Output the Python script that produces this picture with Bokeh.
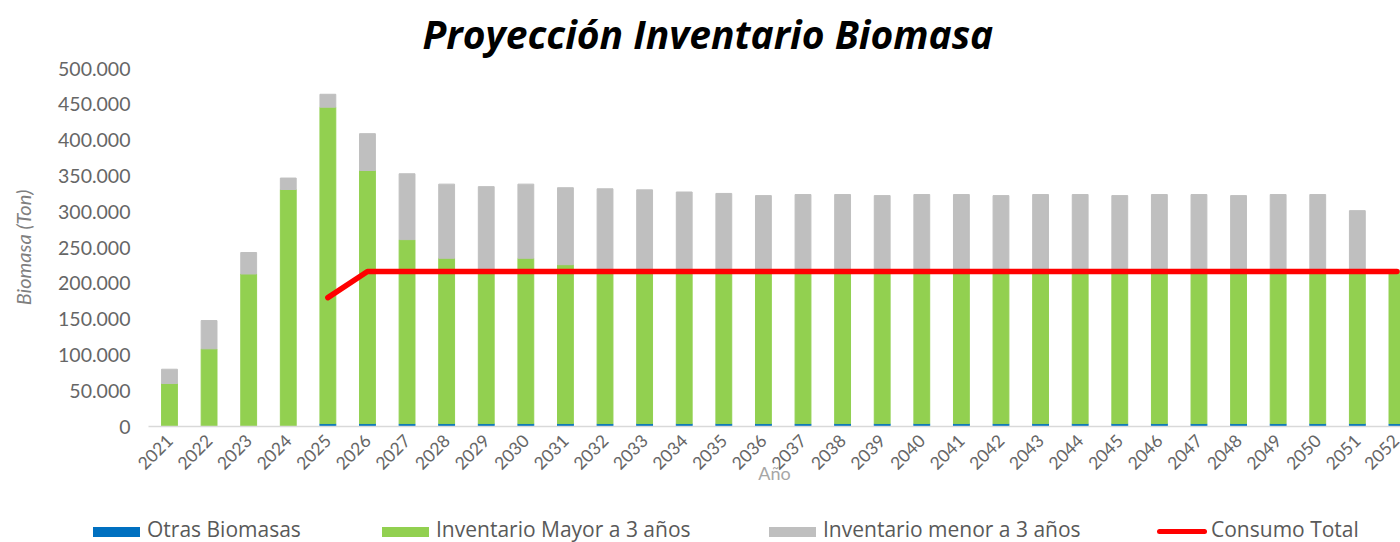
import math
from bokeh.plotting import figure
from bokeh.layouts import column
from bokeh.models import (Range1d, FixedTicker, Title, ColumnDataSource, Div)
from bokeh.embed import file_html
from bokeh.resources import INLINE

# ---------------- data ----------------
years = [2021, 2022, 2023, 2024, 2025, 2026, 2027, 2028, 2029, 2030,
         2031, 2032, 2033, 2034, 2035, 2036, 2037, 2038, 2039, 2040,
         2041, 2042, 2043, 2044, 2045, 2046, 2047, 2048, 2049, 2050,
         2051, 2052]
otras_biomasas = [0, 0, 0, 0, 4000, 4000, 4000, 4000, 4000, 4000,
                  4000, 4000, 4000, 4000, 4000, 4000, 4000, 4000, 4000, 4000,
                  4000, 4000, 4000, 4000, 4000, 4000, 4000, 4000, 4000, 4000,
                  4000, 4000]
inventario_mayor = [60000, 108500, 213000, 331000, 442000, 353500, 257000, 231000, 214000, 231000,
                    222000, 215000, 214000, 214000, 214000, 214000, 214000, 214000, 214000, 214000,
                    214000, 214000, 214000, 214000, 214000, 214000, 214000, 214000, 214000, 214000,
                    214000, 214000]
inventario_menor = [20000, 39500, 30000, 16000, 18000, 51500, 92000, 103500, 117000, 103500,
                    107500, 113000, 112500, 109500, 107500, 104500, 106000, 106000, 104500, 106000,
                    106000, 104500, 106000, 106000, 104500, 106000, 106000, 104500, 106000, 106000,
                    83500, 0]
nan = float("nan")
consumo_total = [nan, nan, nan, nan, 180000, 216500, 216500, 216500, 216500, 216500,
                 216500, 216500, 216500, 216500, 216500, 216500, 216500, 216500, 216500, 216500,
                 216500, 216500, 216500, 216500, 216500, 216500, 216500, 216500, 216500, 216500,
                 216500, 216500]
y_ticks = [0, 50000, 100000, 150000, 200000, 250000, 300000, 350000, 400000, 450000, 500000]
y_tick_labels = ["0", "50.000", "100.000", "150.000", "200.000", "250.000",
                 "300.000", "350.000", "400.000", "450.000", "500.000"]
x_tick_labels = [str(y) for y in years]
series_names = ["Otras Biomasas", "Inventario Mayor a 3 años",
                "Inventario menor a 3 años", "Consumo Total"]
title_text = "Proyección Inventario Biomasa"

# ---------------- styles ----------------
FONT = "Lato"
BLUE = "#0070C0"
GREEN = "#92D050"
GREY = "#BFBFBF"
RED = "#FF0000"
TEXT = "#666666"

src = ColumnDataSource(dict(year=years, otras=otras_biomasas,
                            mayor=inventario_mayor, menor=inventario_menor))

p = figure(width=1400, height=512, output_backend="svg", toolbar_location=None,
           title=None,
           x_range=Range1d(2020.47, 2052.09), y_range=Range1d(0, 500000),
           min_border_left=148, min_border_right=0,
           min_border_top=68, min_border_bottom=86)
p.outline_line_color = None
p.xgrid.visible = False
p.ygrid.visible = False
p.background_fill_color = "white"

bars = p.vbar_stack(["otras", "mayor", "menor"], x="year", width=0.4,
                    color=[BLUE, GREEN, GREY], source=src)
line = p.line(years, consumo_total, line_color=RED, line_width=5.5,
              line_cap="round", line_join="round")

# y axis
yax = p.yaxis[0]
yax.ticker = FixedTicker(ticks=y_ticks)
yax.major_label_overrides = {t: l for t, l in zip(y_ticks, y_tick_labels)}
yax.axis_line_color = None
yax.major_tick_line_color = None
yax.minor_tick_line_color = None
yax.major_tick_out = 0
yax.major_tick_in = 0
yax.major_label_standoff = 18
yax.major_label_text_font = FONT
yax.major_label_text_font_size = "19.5px"
yax.major_label_text_color = TEXT
yax.axis_label = "Biomasa (Ton)"
yax.axis_label_text_font = FONT
yax.axis_label_text_font_style = "italic"
yax.axis_label_text_font_size = "20px"
yax.axis_label_text_color = "#7f7f7f"
yax.axis_label_standoff = 20

# x axis
xax = p.xaxis[0]
xax.ticker = FixedTicker(ticks=years)
xax.major_label_overrides = {y: l for y, l in zip(years, x_tick_labels)}
xax.major_label_orientation = math.pi / 4
xax.axis_line_color = "#D9D9D9"
xax.axis_line_width = 1.5
xax.major_tick_line_color = None
xax.minor_tick_line_color = None
xax.major_tick_out = 0
xax.major_tick_in = 0
xax.major_label_standoff = 11
xax.major_label_text_font = FONT
xax.major_label_text_font_size = "17.5px"
xax.major_label_text_color = TEXT
xax.axis_label = "Año"
xax.axis_label_text_font = FONT
xax.axis_label_text_font_style = "normal"
xax.axis_label_text_font_size = "18px"
xax.axis_label_text_color = "#A6A6A6"
xax.axis_label_standoff = -16

# title
p.add_layout(Title(text=title_text, align="left", offset=274, standoff=13,
                   vertical_align="top",
                   text_font="Open Sans", text_font_style="bold italic",
                   text_font_size="39px", text_color="#000000"), "above")

# ---------------- legend strip (below the plot) ----------------
legend_colors = [BLUE, GREEN, GREY, RED]
legend_left = [93, 382, 769, 1157]
parts = []
for i, (name, col, lx) in enumerate(zip(series_names, legend_colors, legend_left)):
    if i < 3:
        parts.append(f'<span style="position:absolute;left:{lx}px;top:15px;'
                     f'width:47px;height:10px;background:{col};"></span>')
        tx = lx + 54
    else:
        parts.append(f'<span style="position:absolute;left:{lx}px;top:17px;'
                     f'width:50px;height:5px;border-radius:3px;background:{col};"></span>')
        tx = lx + 54
    parts.append(f'<span style="position:absolute;left:{tx}px;top:7px;'
                 f'line-height:21px;">{name}</span>')
legend_html = ('<div style="position:relative;width:1400px;height:30px;'
               "font-family:'Open Sans';font-size:21px;color:#595959;"
               'white-space:nowrap;">' + "".join(parts) + "</div>")
legend_div = Div(text=legend_html, width=1400, height=30, margin=(0, 0, 0, 0))

layout = column(p, legend_div, spacing=0)
open("out.html", "w").write(file_html(layout, INLINE))
